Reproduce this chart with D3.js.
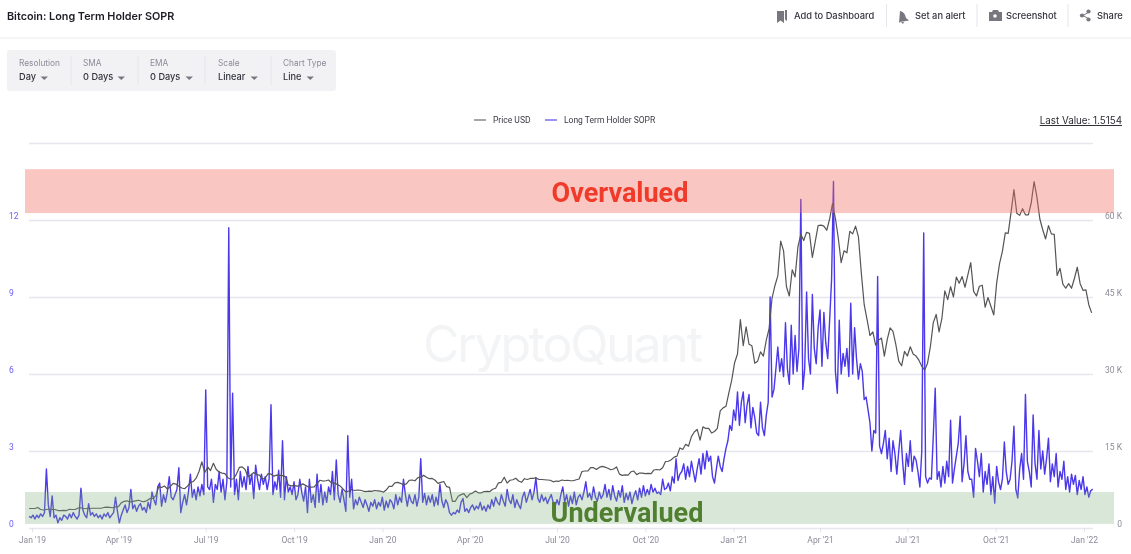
<!DOCTYPE html>
<html>
<head>
<meta charset="utf-8">
<title>Bitcoin: Long Term Holder SOPR</title>
<script src="https://cdn.jsdelivr.net/npm/d3@7"></script>
<style>
    html, body { margin: 0; padding: 0; background: #fff; width: 1131px; height: 554px; overflow: hidden; }
    svg { display: block; font-family: Inter, Roboto, sans-serif; filter: blur(0.3px); }
    .grid line { stroke: #e6e6ee; stroke-width: 1.5; }
    .grid path, .y-labels path, .x-axis path { display: none; }
    .y-labels line { display: none; }
    .y-left text { fill: #6a5cf5; font: 8.5px Roboto, sans-serif; text-anchor: start; }
    .y-right text { fill: #8b8b99; font: 8.5px Roboto, sans-serif; text-anchor: end; }
    .x-axis line { stroke: #e0e0e8; }
    .x-axis text { fill: #8b8b99; font: 8.5px Roboto, sans-serif; }
</style>
</head>
<body>
<div id="chart"></div>
<script>
// Data. One SOPR value every 2 days, one price (in K USD) every 3 days.
const firstDay = new Date(2018, 11, 29);
const soprStepDays = 2;
const priceStepDays = 3;

const soprValues = [
    0.45,0.4,0.5,0.35,0.5,0.4,0.55,0.45,0.6,2.3,0.9,0.45,1.25,0.4,0.5,0.2,0.4,0.3,0.5,0.45,
    0.35,0.55,0.4,0.6,0.45,0.35,0.5,1.55,0.7,0.5,0.4,0.95,0.5,0.6,0.45,0.55,0.4,0.5,0.35,0.55,
    0.45,0.6,0.4,0.5,0.6,1.2,0.65,0.2,0.5,0.7,0.9,0.6,0.8,1.5,0.75,0.9,0.65,0.85,0.95,0.7,
    0.8,0.6,1.0,0.75,1.4,1.1,0.9,1.6,1.75,0.85,1.3,1.0,1.4,2.0,1.2,1.1,1.3,1.5,2.35,0.6,
    1.0,1.3,0.9,1.4,2.1,1.2,1.5,1.1,1.6,1.25,1.7,1.3,5.38,1.6,1.5,1.9,1.0,1.7,1.5,2.2,
    1.4,1.9,1.1,1.8,11.7,1.6,5.25,1.3,1.9,1.1,2.2,1.6,2.0,1.5,2.4,1.7,2.1,1.15,2.45,1.9,
    1.5,2.1,1.7,2.0,1.5,1.9,4.8,1.3,1.8,1.5,2.25,1.2,3.4,1.1,2.0,1.4,1.6,1.3,1.8,1.1,
    1.3,1.9,1.4,1.05,1.6,0.6,1.9,1.0,1.3,0.8,2.1,1.0,1.7,0.9,1.4,1.0,1.6,1.3,2.2,1.1,
    2.65,1.3,1.0,1.5,1.1,0.65,3.6,1.2,1.9,0.75,1.1,0.9,1.2,1.0,0.8,1.1,0.9,0.65,1.0,0.85,
    1.1,0.75,1.0,0.85,1.2,0.7,1.05,0.8,1.1,1.0,0.75,1.3,0.9,1.2,1.0,1.9,1.3,0.85,1.3,1.05,
    0.95,1.3,0.85,1.2,2.7,1.0,1.35,0.9,1.25,1.0,1.3,0.85,1.2,0.9,1.7,1.05,0.8,1.1,0.95,0.6,
    0.5,0.6,0.55,0.7,0.6,1.0,1.15,0.65,0.75,0.6,0.8,0.9,0.7,0.85,0.75,1.0,0.7,0.85,0.65,0.9,
    0.75,1.1,0.85,1.2,1.0,0.9,1.3,1.05,0.85,1.5,1.1,0.95,1.3,0.8,1.1,0.9,0.75,1.2,1.4,1.0,
    1.25,1.5,1.1,1.4,1.95,1.15,1.0,1.3,1.05,1.2,0.95,1.15,1.3,1.0,0.85,1.1,0.9,1.3,1.6,1.0,
    1.3,0.85,1.25,0.95,1.4,0.9,1.2,1.3,1.1,1.4,1.8,1.2,1.35,1.1,1.6,1.2,1.05,1.4,1.15,1.3,
    1.7,1.2,1.5,1.1,1.65,1.25,1.05,1.45,1.2,1.65,1.0,1.35,1.1,1.4,0.95,1.25,1.45,1.1,1.55,1.2,
    1.65,1.25,1.5,1.3,1.7,1.4,1.55,1.35,1.4,1.3,1.9,1.5,1.55,1.75,1.45,2.0,1.75,2.7,1.85,2.1,
    2.2,2.5,1.9,2.4,2.0,2.6,2.2,1.8,2.3,2.7,2.1,2.9,2.3,3.0,2.6,2.8,2.0,1.75,2.3,2.8,
    2.4,2.2,2.7,3.1,3.4,4.0,3.8,4.6,4.2,5.3,4.0,4.9,5.3,4.1,4.8,5.2,3.9,4.7,4.3,3.7,
    3.6,4.9,3.9,3.6,4.4,4.9,9.0,5.1,5.4,6.2,7.05,6.1,6.6,5.9,8.0,6.2,5.6,7.9,6.0,7.5,
    6.1,7.0,12.8,5.4,6.2,9.2,6.6,6.0,9.1,7.0,6.4,7.8,8.5,6.3,8.4,7.2,6.6,8.1,9.66,13.5,
    6.1,5.25,8.1,6.0,6.8,6.3,7.0,5.9,8.76,6.0,7.8,6.6,5.8,6.4,6.1,5.0,5.1,4.6,4.1,3.0,
    3.8,3.7,9.8,3.2,2.9,3.3,3.8,2.7,3.5,2.2,3.4,2.9,2.1,3.0,3.8,2.6,1.7,2.9,2.4,3.4,
    2.2,2.8,2.65,2.2,1.6,3.0,11.5,2.0,1.75,1.95,1.9,3.6,5.45,1.9,2.2,1.6,2.4,1.75,2.6,2.0,
    4.2,1.75,2.3,2.8,3.3,4.36,1.8,2.5,3.6,2.2,1.9,1.9,1.2,3.1,2.6,2.0,2.9,1.4,2.2,1.7,
    2.5,1.3,2.0,0.97,2.4,1.8,1.5,1.9,3.35,2.2,1.7,1.9,2.6,3.97,1.5,1.17,2.3,2.9,1.9,5.2,
    2.6,2.2,1.6,4.4,2.5,1.9,3.8,2.3,3.0,2.1,2.7,3.5,1.8,2.5,2.0,2.9,1.6,2.2,1.9,2.6,
    1.5,2.0,1.4,2.1,1.7,2.05,1.3,1.85,1.5,2.0,1.3,1.6,1.2,1.45,1.5154
];

const priceValues = [
    3.8,3.8,3.8,4.0,3.6,3.5,3.6,3.7,3.6,3.6,3.4,3.4,3.45,3.4,3.65,3.6,3.6,3.9,3.95,3.75,3.8,
    3.8,3.85,3.85,3.85,3.85,4.0,4.05,4.0,3.95,4.1,4.15,4.9,5.2,5.3,5.05,5.2,5.3,5.4,5.2,5.15,
    5.35,5.75,5.75,6.3,8.0,7.9,8.2,7.6,8.05,8.7,8.55,8.15,7.8,7.65,8.15,8.85,9.05,9.7,11.0,12.9,
    10.8,11.9,11.2,12.6,11.4,10.9,10.7,10.6,9.8,9.5,9.6,10.5,11.8,11.9,11.4,10.0,10.3,10.8,10.4,10.3,
    9.5,9.75,10.6,10.5,10.1,10.3,10.25,10.2,10.0,8.4,8.2,8.3,8.15,8.2,8.6,8.3,8.0,7.95,8.0,8.65,9.3,
    9.15,9.2,9.35,8.8,8.75,8.5,8.2,7.6,7.0,7.2,7.5,7.3,7.4,7.35,7.2,7.1,7.2,7.15,7.3,7.25,7.2,
    6.95,7.4,8.1,8.1,8.8,8.9,8.7,8.4,8.6,9.3,9.35,9.2,9.8,9.9,10.25,9.9,9.6,9.65,9.3,8.7,
    8.9,9.05,8.05,7.9,5.2,5.2,6.2,6.5,6.7,5.9,6.6,6.8,7.2,6.85,6.85,7.1,7.15,7.1,7.55,7.75,
    8.8,8.9,9.9,8.75,9.3,9.4,9.7,9.15,8.9,9.6,9.45,9.65,9.65,9.8,9.45,9.45,9.4,9.35,9.3,9.0,9.15,
    9.1,9.35,9.25,9.3,9.2,9.2,9.4,9.55,11.0,11.1,11.1,11.75,11.75,11.4,11.8,12.0,11.85,11.65,11.35,11.5,
    11.9,10.5,10.25,10.35,10.3,10.95,11.1,10.4,10.7,10.7,10.6,10.65,10.6,11.3,11.4,11.3,11.75,12.95,13.0,13.3,13.8,
    14.0,15.6,15.3,16.3,15.95,17.8,18.7,19.2,17.1,19.7,19.4,19.4,18.5,18.8,19.4,22.8,23.4,23.7,26.3,28.8,
    32.2,33.9,40.6,35.5,39.2,35.8,35.5,32.1,32.5,34.3,33.5,36.6,38.9,44.8,47.2,49.1,55.9,54.0,47.0,45.2,
    50.3,48.9,54.8,57.2,56.0,57.6,57.4,52.7,55.8,58.9,59.0,58.8,58.0,60.2,63.2,60.3,56.5,51.7,54.0,53.6,
    57.8,57.3,58.8,56.7,49.7,43.5,40.6,37.5,38.2,35.6,36.6,37.0,33.5,36.7,39.0,38.3,35.7,32.5,31.6,34.4,
    33.5,35.3,33.9,33.5,32.7,31.5,30.8,32.1,35.4,40.0,41.6,38.2,40.9,46.2,44.5,47.0,45.0,48.9,47.7,49.0,46.9,
    49.3,51.7,46.1,45.2,47.1,47.3,43.0,44.9,43.2,41.5,47.7,51.5,53.9,57.5,57.4,61.5,65.9,61.3,60.9,62.2,
    61.0,61.0,63.3,67.5,64.4,60.2,58.1,56.3,58.9,57.3,57.2,49.2,50.6,47.5,46.7,47.6,46.7,48.6,50.8,47.6,46.3,
    46.4,43.5,41.9
];

const xTicks = [
    new Date(2019, 0, 1), new Date(2019, 3, 1), new Date(2019, 6, 1), new Date(2019, 9, 1),
    new Date(2020, 0, 1), new Date(2020, 3, 1), new Date(2020, 6, 1), new Date(2020, 9, 1),
    new Date(2021, 0, 1), new Date(2021, 3, 1), new Date(2021, 6, 1), new Date(2021, 9, 1),
    new Date(2022, 0, 1)
];
const soprTicks = [0, 3, 6, 9, 12, 15];
const soprLabelTicks = [0, 3, 6, 9, 12];
const priceLabelTicks = [0, 15, 30, 45, 60];
const overvaluedBand = [12.27, 13.98];
const undervaluedBand = [0.16, 1.4];

const toolbarItems = [
    { label: "Resolution", value: "Day", x: 19, arrow: 44 },
    { label: "SMA", value: "0 Days", x: 83, arrow: 121 },
    { label: "EMA", value: "0 Days", x: 150, arrow: 189 },
    { label: "Scale", value: "Linear", x: 218, arrow: 254 },
    { label: "Chart Type", value: "Line", x: 283, arrow: 310 },
];
const toolbarDividers = [71, 138, 205, 271];
const headerDividers = [886.5, 977, 1068];

const width = 1131;
const height = 554;

const svg = d3.select("#chart").append("svg")
    .attr("width", width)
    .attr("height", height);

// Scales
const xScale = d3.scaleTime()
    .domain([new Date(2019, 0, 1), new Date(2022, 0, 1)])
    .range([32, 1084]);
const soprScale = d3.scaleLinear().domain([0, 15]).range([528, 143]);
const priceScale = d3.scaleLinear().domain([0, 75]).range([528, 143]);

const plotLeft = 29;
const plotRight = 1093;

// Header
svg.append("text").attr("x", 7).attr("y", 20)
    .attr("font-size", 10.8).attr("font-weight", 600).attr("fill", "#1d1d26")
    .text("Bitcoin: Long Term Holder SOPR");
svg.append("line").attr("x1", 0).attr("x2", width).attr("y1", 38).attr("y2", 38)
    .attr("stroke", "#ececf2").attr("stroke-width", 1.2);

const iconFill = "#77777f";
svg.append("path").attr("d", "M777 11h7v12l-3.5-2.5L777 23zM785 10h2v11l-2-1.5z").attr("fill", iconFill);
svg.append("path").attr("d", "M900 11q5 1 6 7l3 2.5-9 1.5-1 1z M901 22h3l-1 2z").attr("fill", iconFill);
svg.append("path").attr("d", "M989 12h3l1-2h5l1 2h3v9h-13z").attr("fill", iconFill);
svg.append("circle").attr("cx", 995).attr("cy", 16).attr("r", 1.8).attr("fill", "#fff");
svg.append("path").attr("d", "M1083 15.5l6-3.5M1083 15.5l6 3.5").attr("stroke", iconFill).attr("fill", "none");
[[1082, 15.5], [1088.5, 11.5], [1088.5, 19.5]].forEach(([cx, cy]) => {
    svg.append("circle").attr("cx", cx).attr("cy", cy).attr("r", 2.1).attr("fill", iconFill);
});

const headerActions = [
    { text: "Add to Dashboard", x: 794 },
    { text: "Set an alert", x: 915 },
    { text: "Screenshot", x: 1006 },
    { text: "Share", x: 1097 },
];
svg.selectAll(".action").data(headerActions).join("text")
    .attr("class", "action")
    .attr("x", d => d.x).attr("y", 19)
    .attr("font-size", 9.3).attr("font-weight", 500).attr("fill", "#33333d")
    .text(d => d.text);
svg.selectAll(".header-divider").data(headerDividers).join("line")
    .attr("class", "header-divider")
    .attr("x1", d => d).attr("x2", d => d).attr("y1", 4).attr("y2", 27)
    .attr("stroke", "#e6e6ec");

// Toolbar
svg.append("rect").attr("x", 7).attr("y", 50).attr("width", 329).attr("height", 41)
    .attr("rx", 3).attr("fill", "#f2f2f5");
svg.selectAll(".toolbar-divider").data(toolbarDividers).join("line")
    .attr("class", "toolbar-divider")
    .attr("x1", d => d).attr("x2", d => d).attr("y1", 56).attr("y2", 85)
    .attr("stroke", "#e6e6ea");
const items = svg.selectAll(".toolbar-item").data(toolbarItems).join("g").attr("class", "toolbar-item");
items.append("text").attr("x", d => d.x).attr("y", 66)
    .attr("font-size", 8.3).attr("fill", "#8b8b99").text(d => d.label);
items.append("text").attr("x", d => d.x).attr("y", 80)
    .attr("font-size", 9.2).attr("font-weight", 500).attr("fill", "#33333d").text(d => d.value);
items.append("path")
    .attr("d", d => `M${d.arrow - 3.5} 76.5h7.5l-3.75 3.5z`)
    .attr("fill", "#77777f");

// Legend
svg.append("line").attr("x1", 474).attr("x2", 486).attr("y1", 120).attr("y2", 120)
    .attr("stroke", "#6b6b6b").attr("stroke-width", 1.2);
svg.append("text").attr("x", 493).attr("y", 123).attr("font-family", "Roboto")
    .attr("font-size", 8.5).attr("fill", "#3a3a44").text("Price USD");
svg.append("line").attr("x1", 545).attr("x2", 557).attr("y1", 120).attr("y2", 120)
    .attr("stroke", "#5a48f0").attr("stroke-width", 1.2);
svg.append("text").attr("x", 564).attr("y", 123).attr("font-family", "Roboto")
    .attr("font-size", 8.5).attr("fill", "#3a3a44").text("Long Term Holder SOPR");
svg.append("text").attr("x", 1122).attr("y", 124).attr("text-anchor", "end")
    .attr("font-size", 9.8).attr("fill", "#2b2b33")
    .attr("text-decoration", "underline").text("Last Value: 1.5154");

// Watermark
svg.append("text").attr("x", 563).attr("y", 362).attr("text-anchor", "middle")
    .attr("font-size", 50).attr("font-weight", 400).attr("fill", "#f3f4f6")
    .attr("textLength", 280).text("CryptoQuant");

// Gridlines
svg.append("g").attr("class", "grid")
    .attr("transform", `translate(${plotLeft},0)`)
    .call(d3.axisLeft(soprScale).tickValues(soprTicks).tickSize(-(plotRight - plotLeft)).tickFormat(""));

// Axes
svg.append("g").attr("class", "x-axis")
    .attr("transform", "translate(0,528)")
    .call(d3.axisBottom(xScale).tickValues(xTicks).tickSize(4).tickFormat(d3.timeFormat("%b '%y")))
    .selectAll("text").attr("dy", "0.95em");

const leftAxis = svg.append("g").attr("class", "y-labels y-left")
    .attr("transform", "translate(9,-4)")
    .call(d3.axisLeft(soprScale).tickValues(soprLabelTicks).tickSize(0).tickPadding(0));
leftAxis.selectAll("text").attr("x", 0);

const rightAxis = svg.append("g").attr("class", "y-labels y-right")
    .attr("transform", "translate(1122,-4)")
    .call(d3.axisRight(priceScale).tickValues(priceLabelTicks).tickSize(0).tickPadding(0)
        .tickFormat(d => d === 0 ? "0" : `${d} K`));
rightAxis.selectAll("text").attr("x", 0);

// Lines
const dayAt = (step, i) => d3.timeDay.offset(firstDay, step * i);

const priceLine = d3.line()
    .x((d, i) => xScale(dayAt(priceStepDays, i)))
    .y(d => priceScale(d));
const soprLine = d3.line()
    .x((d, i) => xScale(dayAt(soprStepDays, i)))
    .y(d => soprScale(d));

svg.append("path").datum(soprValues)
    .attr("d", soprLine)
    .attr("fill", "none")
    .attr("stroke", "#4a38ea")
    .attr("stroke-width", 1.4)
    .attr("stroke-linejoin", "round");
svg.append("path").datum(priceValues)
    .attr("d", priceLine)
    .attr("fill", "none")
    .attr("stroke", "#555558")
    .attr("stroke-width", 1.2)
    .attr("stroke-linejoin", "round");

// Overvalued / undervalued bands sit on top of the lines
svg.append("rect")
    .attr("x", 25).attr("width", 1089)
    .attr("y", soprScale(overvaluedBand[1]))
    .attr("height", soprScale(overvaluedBand[0]) - soprScale(overvaluedBand[1]))
    .attr("fill", "#ee6a5c").attr("fill-opacity", 0.38);
svg.append("rect")
    .attr("x", 25).attr("width", 1089)
    .attr("y", soprScale(undervaluedBand[1]))
    .attr("height", soprScale(undervaluedBand[0]) - soprScale(undervaluedBand[1]))
    .attr("fill", "#7fae7a").attr("fill-opacity", 0.3);

svg.append("text").attr("x", 620).attr("y", 202).attr("text-anchor", "middle")
    .attr("font-family", "Roboto").attr("font-size", 27).attr("font-weight", 700)
    .attr("fill", "#f03a2a").text("Overvalued");
svg.append("text").attr("x", 627).attr("y", 522).attr("text-anchor", "middle")
    .attr("font-family", "Roboto").attr("font-size", 27).attr("font-weight", 700)
    .attr("fill", "#4f7f2f").text("Undervalued");
</script>
</body>
</html>
